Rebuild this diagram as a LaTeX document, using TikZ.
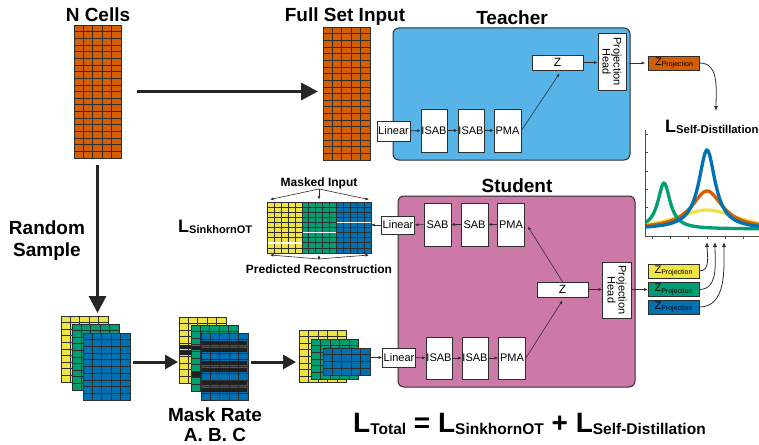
\documentclass[tikz,border=0pt]{standalone}
\usepackage{fontspec}
\setmainfont{Liberation Sans}
\usetikzlibrary{arrows.meta,calc}
\definecolor{cOrange}{HTML}{D55E00}
\definecolor{cBlue}{HTML}{0072B2}
\definecolor{cGreen}{HTML}{009E73}
\definecolor{cYellow}{HTML}{F0E442}
\definecolor{cTeacher}{HTML}{56B4E9}
\definecolor{cStudent}{HTML}{CC79A7}
\definecolor{cLine}{HTML}{2E2E2E}
\newcommand\fs[1]{\fontsize{#1}{#1}\selectfont}
\newcommand\Lsub[4]{{\fs{#1}L}\raisebox{-#4}{\fs{#2}#3}}
% \cellgrid{name}{x}{y}{cols}{rows}{cw}{ch}{color}
\newcommand\cellgrid[8]{%
  \foreach \ci in {1,...,#4}{\foreach \cj in {1,...,#5}{%
    \draw[gridline,fill=#8] ({#2+(\ci-1)*#6},{#3+(\cj-1)*#7}) rectangle ++(#6,#7);}}%
  \node[gridframe,minimum width={#4*#6*1pt},minimum height={#5*#7*1pt},anchor=north west] (#1) at (#2,#3) {};}
% \maskrows{x}{y}{w}{ch}{list}
\newcommand\maskrows[5]{%
  \foreach \mr in {#5}{\fill[maskfill] ({#1+1.3},{#2+\mr*#4+1.2}) rectangle ({#1+#3-1.3},{#2+(\mr+1)*#4-1.2});}}
\tikzset{
 gridline/.style={draw=cLine,line width=0.65pt},
 gridframe/.style={draw=cLine,line width=0.8pt,inner sep=0pt,outer sep=0pt},
 maskfill/.style={fill=black!88},
 title/.style={font=\fs{19}\bfseries,anchor=base,inner sep=0pt},
 sublabel/.style={font=\fs{12}\bfseries,anchor=base,inner sep=0pt},
 panel/.style={draw=cLine,line width=1pt,rounded corners=6pt,inner sep=0pt},
 blk/.style={draw=cLine,fill=white,line width=0.7pt,inner sep=0pt,font=\fs{11}},
 zp/.style={draw=cLine,line width=0.7pt,inner sep=0pt,minimum width=51pt,minimum height=14pt,font=\fs{11}},
 bigarr/.style={draw=black!85,line width=3.2pt,-{Triangle[length=17pt,width=17pt]}},
 midarr/.style={draw=black!85,line width=3pt,-{Triangle[length=13pt,width=14pt]}},
 thinarr/.style={draw=cLine,line width=0.6pt,-{Latex[length=3.5pt,width=3pt]}},
 curvearr/.style={draw=cLine,line width=0.8pt,-{Latex[length=5pt,width=4pt]}},
 curve/.style={line width=3.3pt},
 axis/.style={draw=black!70,line width=0.9pt},
}
\begin{document}
\begin{tikzpicture}[x=1pt,y=-1pt]
\fill[white] (0,0) rectangle (759,444);
\useasboundingbox (0,0) rectangle (759,444);

% ---------- titles ----------
\node[title] (tNC) at (98,22) {N Cells};
\node[title] (tFS) at (345,22) {Full Set Input};
\node[title] (tT) at (512,25) {Teacher};
\node[title] (tS) at (517,192) {Student};
\node[title] (tR1) at (47,234) {Random};
\node[title] (tR2) at (47,256) {Sample};
\node[title] (tM1) at (215,421) {Mask Rate};
\node[title] (tM2) at (215,441) {A. B. C};

% ---------- big grids ----------
\cellgrid{nc}{74}{25}{5}{20}{9.4}{6.65}{cOrange}
\cellgrid{fs}{323}{27}{5}{20}{9.4}{6.65}{cOrange}

% ---------- set 1 ----------
\cellgrid{ya}{61}{316}{5}{10}{9.4}{6.6}{cYellow}
\cellgrid{ga}{72}{324}{5}{10}{9.4}{6.6}{cGreen}
\cellgrid{ba}{83}{333}{5}{10}{9.4}{6.7}{cBlue}

% ---------- set 2 (masked) ----------
\cellgrid{yb}{179}{317}{5}{10}{9.4}{6.6}{cYellow}
\maskrows{179}{317}{47}{6.6}{4,5}
\cellgrid{gb}{191}{325}{5}{10}{9.4}{6.6}{cGreen}
\maskrows{191}{325}{47}{6.6}{3,7}
\cellgrid{bb}{201}{333}{5}{10}{9.4}{6.7}{cBlue}
\maskrows{201}{333}{47}{6.7}{1,2,4,5,7,8}

% ---------- set 3 (kept rows) ----------
\cellgrid{yc}{299}{330}{5}{8}{9.5}{6.6}{cYellow}
\cellgrid{gc}{311}{339}{5}{6}{9.5}{6.7}{cGreen}
\cellgrid{bc}{323}{348}{5}{4}{9.4}{6.75}{cBlue}

% ---------- masked input / reconstruction ----------
\cellgrid{mY}{267}{202}{5}{10}{7}{5.1}{cYellow}
\cellgrid{mG}{302}{202}{5}{10}{6.8}{5.1}{cGreen}
\cellgrid{mB}{336}{202}{5}{10}{7}{5.1}{cBlue}
\draw[white,line width=1.6pt] (267.5,242.8) -- (301.5,242.8);
\draw[white,line width=1.6pt] (302.5,232.6) -- (335.5,232.6);
\draw[white,line width=1.6pt] (336.5,222.4) -- (370.5,222.4);
\node[sublabel] (lMI) at (319,186) {Masked Input};
\node[sublabel] (lPR) at (319,273) {Predicted Reconstruction};
\coordinate (miS) at (319,189);
\coordinate (miA) at (270,199.5);
\coordinate (miB) at (319,199.5);
\coordinate (miC) at (369,199.5);
\coordinate (prS) at (319,259);
\coordinate (prA) at (270,255);
\coordinate (prB) at (319,255);
\coordinate (prC) at (369,255);
\foreach \t in {miA,miB,miC} \draw[thinarr] (miS) -- (\t);
\foreach \t in {prA,prB,prC} \draw[thinarr] (prS) -- (\t);
\node[anchor=base west,inner sep=0pt,font=\bfseries] (lSOT) at (178,232) {\Lsub{18}{11}{SinkhornOT}{1.5pt}};

% ---------- big arrows ----------
\draw[bigarr,shorten <=16pt,shorten >=5pt] (nc.east) -- (nc.east -| fs.west);
\draw[bigarr,shorten <=7pt,shorten >=3pt] (nc.south) -- (nc.south |- ya.north);
\draw[midarr,shorten <=3pt,shorten >=1pt] ($(ba.east)+(0,-4.5)$) -- ($(ba.east -| yb.west)+(0,-4.5)$);
\draw[midarr,shorten <=3pt,shorten >=3pt] ($(bb.east)+(0,-4.5)$) -- ($(bb.east -| yc.west)+(0,-4.5)$);

% ---------- teacher ----------
\node[panel,fill=cTeacher,minimum width=237pt,minimum height=132pt] (teacher) at (511.5,94) {};
\node[blk,minimum width=33pt,minimum height=20pt] (tLin) at (393.5,131) {Linear};
\node[blk,minimum width=26pt,minimum height=43pt] (tIS1) at (434,130.5) {ISAB};
\node[blk,minimum width=26pt,minimum height=43pt] (tIS2) at (471,130.5) {ISAB};
\node[blk,minimum width=27pt,minimum height=43pt] (tPMA) at (507.5,130.5) {PMA};
\node[blk,minimum width=51pt,minimum height=15pt,font=\fs{12}] (tZ) at (557.5,62.5) {Z};
\node[blk,minimum width=28pt,minimum height=57pt] (tPH) at (612,61.5) {};
\node[rotate=-90,align=center,font=\fs{11},inner sep=0pt] at (tPH) {Projection\\Head};
\node[zp,fill=cOrange] (tZP) at (674,63) {Z\raisebox{-1.5pt}{\fs{7}Projection}};
\draw[thinarr] (tLin) -- (tIS1);
\draw[thinarr] (tIS1) -- (tIS2);
\draw[thinarr] (tIS2) -- (tPMA);
\draw[thinarr] (tPMA.east) -- ($(tZ.south)+(2,3)$);
\draw[thinarr] (tZ.east) -- (tZ.east -| tPH.west);
\draw[thinarr,shorten <=3pt,shorten >=3pt] (tPH.east |- tZP.west) -- (tZP.west);
\coordinate (sdTip) at (716,111);
\draw[curvearr] (tZP.east) to[out=0,in=90] (sdTip);

% ---------- student ----------
\node[panel,fill=cStudent,minimum width=237pt,minimum height=191pt] (student) at (516.5,291.5) {};
\node[blk,minimum width=33pt,minimum height=18pt] (sLin1) at (398,225) {Linear};
\node[blk,minimum width=27pt,minimum height=43pt] (sSAB1) at (437.5,224.5) {SAB};
\node[blk,minimum width=27pt,minimum height=43pt] (sSAB2) at (474.5,224.5) {SAB};
\node[blk,minimum width=27pt,minimum height=43pt] (sPMA1) at (511,224.5) {PMA};
\node[blk,minimum width=51pt,minimum height=15pt,font=\fs{12}] (sZ) at (562.5,289.5) {Z};
\node[blk,minimum width=29pt,minimum height=56pt] (sPH) at (617,290) {};
\node[rotate=-90,align=center,font=\fs{11},inner sep=0pt] at (sPH) {Projection\\Head};
\node[blk,minimum width=33pt,minimum height=19pt] (sLin2) at (399,357.5) {Linear};
\node[blk,minimum width=26pt,minimum height=42pt] (sIS1) at (439,358) {ISAB};
\node[blk,minimum width=26pt,minimum height=42pt] (sIS2) at (475,358) {ISAB};
\node[blk,minimum width=27pt,minimum height=42pt] (sPMA2) at (512,358) {PMA};
\draw[thinarr] (sPMA1) -- (sSAB2);
\draw[thinarr] (sSAB2) -- (sSAB1);
\draw[thinarr] (sSAB1) -- (sLin1);
\draw[thinarr] (sLin1.west) -- (sLin1.west -| mB.east);
\draw[thinarr] (sZ.north) -- ($(sPMA1.east)+(3,2)$);
\draw[thinarr] (sPMA2.east) -- ($(sZ.south)+(0,3)$);
\draw[thinarr] (sZ.east) -- (sZ.east -| sPH.west);
\draw[thinarr] (sLin2.west -| bc.east) -- (sLin2.west);
\draw[thinarr] (sLin2) -- (sIS1);
\draw[thinarr] (sIS1) -- (sIS2);
\draw[thinarr] (sIS2) -- (sPMA2);
\node[zp,fill=cYellow] (zY) at (673.5,271) {Z\raisebox{-1.5pt}{\fs{7}Projection}};
\node[zp,fill=cGreen] (zG) at (673.5,289.5) {Z\raisebox{-1.5pt}{\fs{7}Projection}};
\node[zp,fill=cBlue] (zB) at (673.5,307) {Z\raisebox{-1.5pt}{\fs{7}Projection}};
\draw[thinarr] (sPH.east |- zG.west) -- (zG.west);

% ---------- chart ----------
\node[anchor=base west,inner sep=0pt,font=\bfseries] (lSD) at (665,132) {\Lsub{18}{11.3}{Self-Distillation}{1.5pt}};
\draw[axis] (645,130) -- (645,236) -- (759,236);
\foreach \yy in {134,152,171,189,207} \draw[axis] (645,\yy) -- (648,\yy);
\foreach \xx in {652,670,688,707,725,743} \draw[axis] (\xx,236) -- (\xx,239);
\begin{scope}
\clip (646,100) rectangle (759,234.5);
\draw[curve,cYellow] plot[domain=646:759,samples=90,smooth] (\x,{231-21/(1+((\x-707)/40)^2)});
\draw[curve,cOrange] plot[domain=646:759,samples=90,smooth] (\x,{229-38/(1+((\x-707)/19)^2)});
\draw[curve,cGreen] plot[domain=646:759,samples=110,smooth] (\x,{229-46/(1+((\x-664)/7.5)^2)});
\draw[curve,cBlue] plot[domain=646:759,samples=120,smooth] (\x,{229-79/(1+((\x-707)/10)^2)});
\end{scope}
\coordinate (a1) at (707,242);
\coordinate (a2) at (715,242);
\coordinate (a3) at (724,242);
\draw[curvearr] (zY.east) to[out=0,in=-90] (a1);
\draw[curvearr] (zG.east) to[out=0,in=-90] (a2);
\draw[curvearr] (zB.east) to[out=0,in=-90] (a3);

% ---------- total loss ----------
\node[anchor=base west,inner sep=0pt,font=\bfseries\fs{28}] (lTot) at (353,432)
  {\Lsub{28}{15.5}{Total}{2pt} = \Lsub{28}{15.5}{SinkhornOT}{2pt} + \Lsub{28}{15.5}{Self-Distillation}{2pt}};
\end{tikzpicture}
\end{document}
